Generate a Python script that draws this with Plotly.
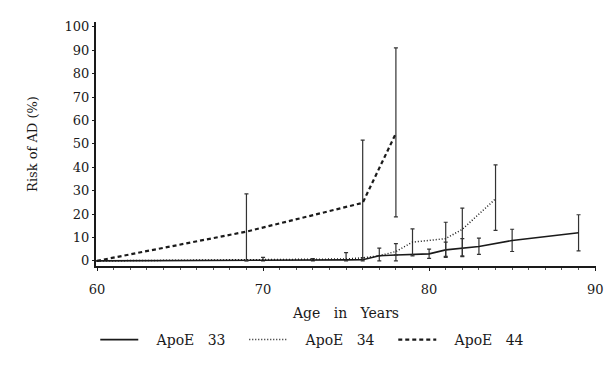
import plotly.graph_objects as go

# ---- data ----
age33 = [60, 69, 70, 73, 75, 76, 77, 78, 79, 80, 81, 82, 83, 85, 89]
risk33 = [0, 0.1, 0.2, 0.3, 0.4, 0.5, 2.2, 2.5, 2.6, 3.0, 4.7, 5.4, 6.1, 8.7, 12.0]
hi33 = [None, None, 1.5, 1.0, None, None, None, None, None, 5.0, 8.0, 9.5, 9.7, 13.5, 19.7]
lo33 = [None, None, 0.0, 0.0, None, None, None, None, None, 1.1, 1.5, 1.8, 2.8, 4.0, 4.3]

age34 = [60, 75, 76, 77, 78, 79, 81, 82, 84]
risk34 = [0, 0.8, 1.3, 2.2, 4.0, 8.0, 9.5, 13.5, 26.5]
hi34 = [None, 3.5, None, 5.4, 7.4, 13.7, 16.5, 22.5, 41.0]
lo34 = [None, 0.0, None, 0.0, 0.0, 2.1, 1.9, 2.1, 13.0]

age44 = [60, 69, 76, 78]
risk44 = [0, 12.5, 24.8, 54.5]
hi44 = [None, 28.6, 51.6, 91.0]
lo44 = [None, 0.0, 0.0, 18.8]

xticks = [60, 70, 80, 90]
yticks = [0, 10, 20, 30, 40, 50, 60, 70, 80, 90, 100]

names = ["ApoE 33", "ApoE 34", "ApoE 44"]

FONT = "DejaVu Serif"
INK = "#1a1a1a"
SP = "\u00a0"


def err(v, h, l):
    up = [None if a is None else a - b for a, b in zip(h, v)]
    dn = [None if a is None else b - a for a, b in zip(l, v)]
    return up, dn


def spaced(s):
    # wide word spacing like the typewriter-style original
    return (SP * 2 + " ").join(s.split(" "))


fig = go.Figure()

series = [
    (age33, risk33, hi33, lo33, names[0], "solid", 1.6),
    (age34, risk34, hi34, lo34, names[1], "1px,2px", 1.5),
    (age44, risk44, hi44, lo44, names[2], "4px,3px", 2.2),
]
for ax, v, h, l, nm, dash, w in series:
    up, dn = err(v, h, l)
    fig.add_trace(go.Scatter(
        x=ax, y=v, name=SP * 3 + spaced(nm), mode="lines",
        line=dict(color=INK, width=w, dash=dash),
        error_y=dict(type="data", array=up, arrayminus=dn, symmetric=False,
                     color="#333333", thickness=1.2, width=2),
    ))

L, R, T, B = 96, 14, 22, 105
W, H = 615, 371
pw = W - L - R
ph = H - T - B

fig.update_layout(
    width=W, height=H,
    margin=dict(l=L, r=R, t=T, b=B),
    paper_bgcolor="white", plot_bgcolor="white",
    font=dict(family=FONT, size=13, color=INK),
    showlegend=True,
    legend=dict(orientation="h", x=(321 - L) / pw, xanchor="center",
                y=(266 - 340) / ph, yanchor="middle",
                font=dict(family=FONT, size=14, color=INK),
                itemwidth=38,
                entrywidth=96, entrywidthmode="pixels",
                bgcolor="rgba(0,0,0,0)"),
    xaxis=dict(range=[59.94, 90.05], tickvals=xticks, ticktext=[str(t) for t in xticks],
               showgrid=False, zeroline=False, showline=True, linecolor=INK, linewidth=1.6,
               ticks="outside", ticklen=3, tickcolor=INK, tickwidth=1,
               ticklabelstandoff=8,
               minor=dict(dtick=1, ticks="outside", ticklen=2, tickcolor="#555555", tickwidth=1, showgrid=False),
               tickfont=dict(family=FONT, size=13, color=INK),
               title=dict(text=spaced("Age in Years"), font=dict(family=FONT, size=14, color=INK), standoff=12)),
    yaxis=dict(range=[-2.2, 102.1], tickvals=yticks, ticktext=[str(t) for t in yticks],
               showgrid=False, zeroline=False, showline=True, linecolor=INK, linewidth=2,
               ticks="outside", ticklen=2, tickcolor=INK, tickwidth=1,
               tickfont=dict(family=FONT, size=13, color=INK),
               title=dict(text="Risk of AD (%)", font=dict(family=FONT, size=13, color=INK), standoff=24)),
)

fig.write_html("out.html", config={"displayModeBar": False})
